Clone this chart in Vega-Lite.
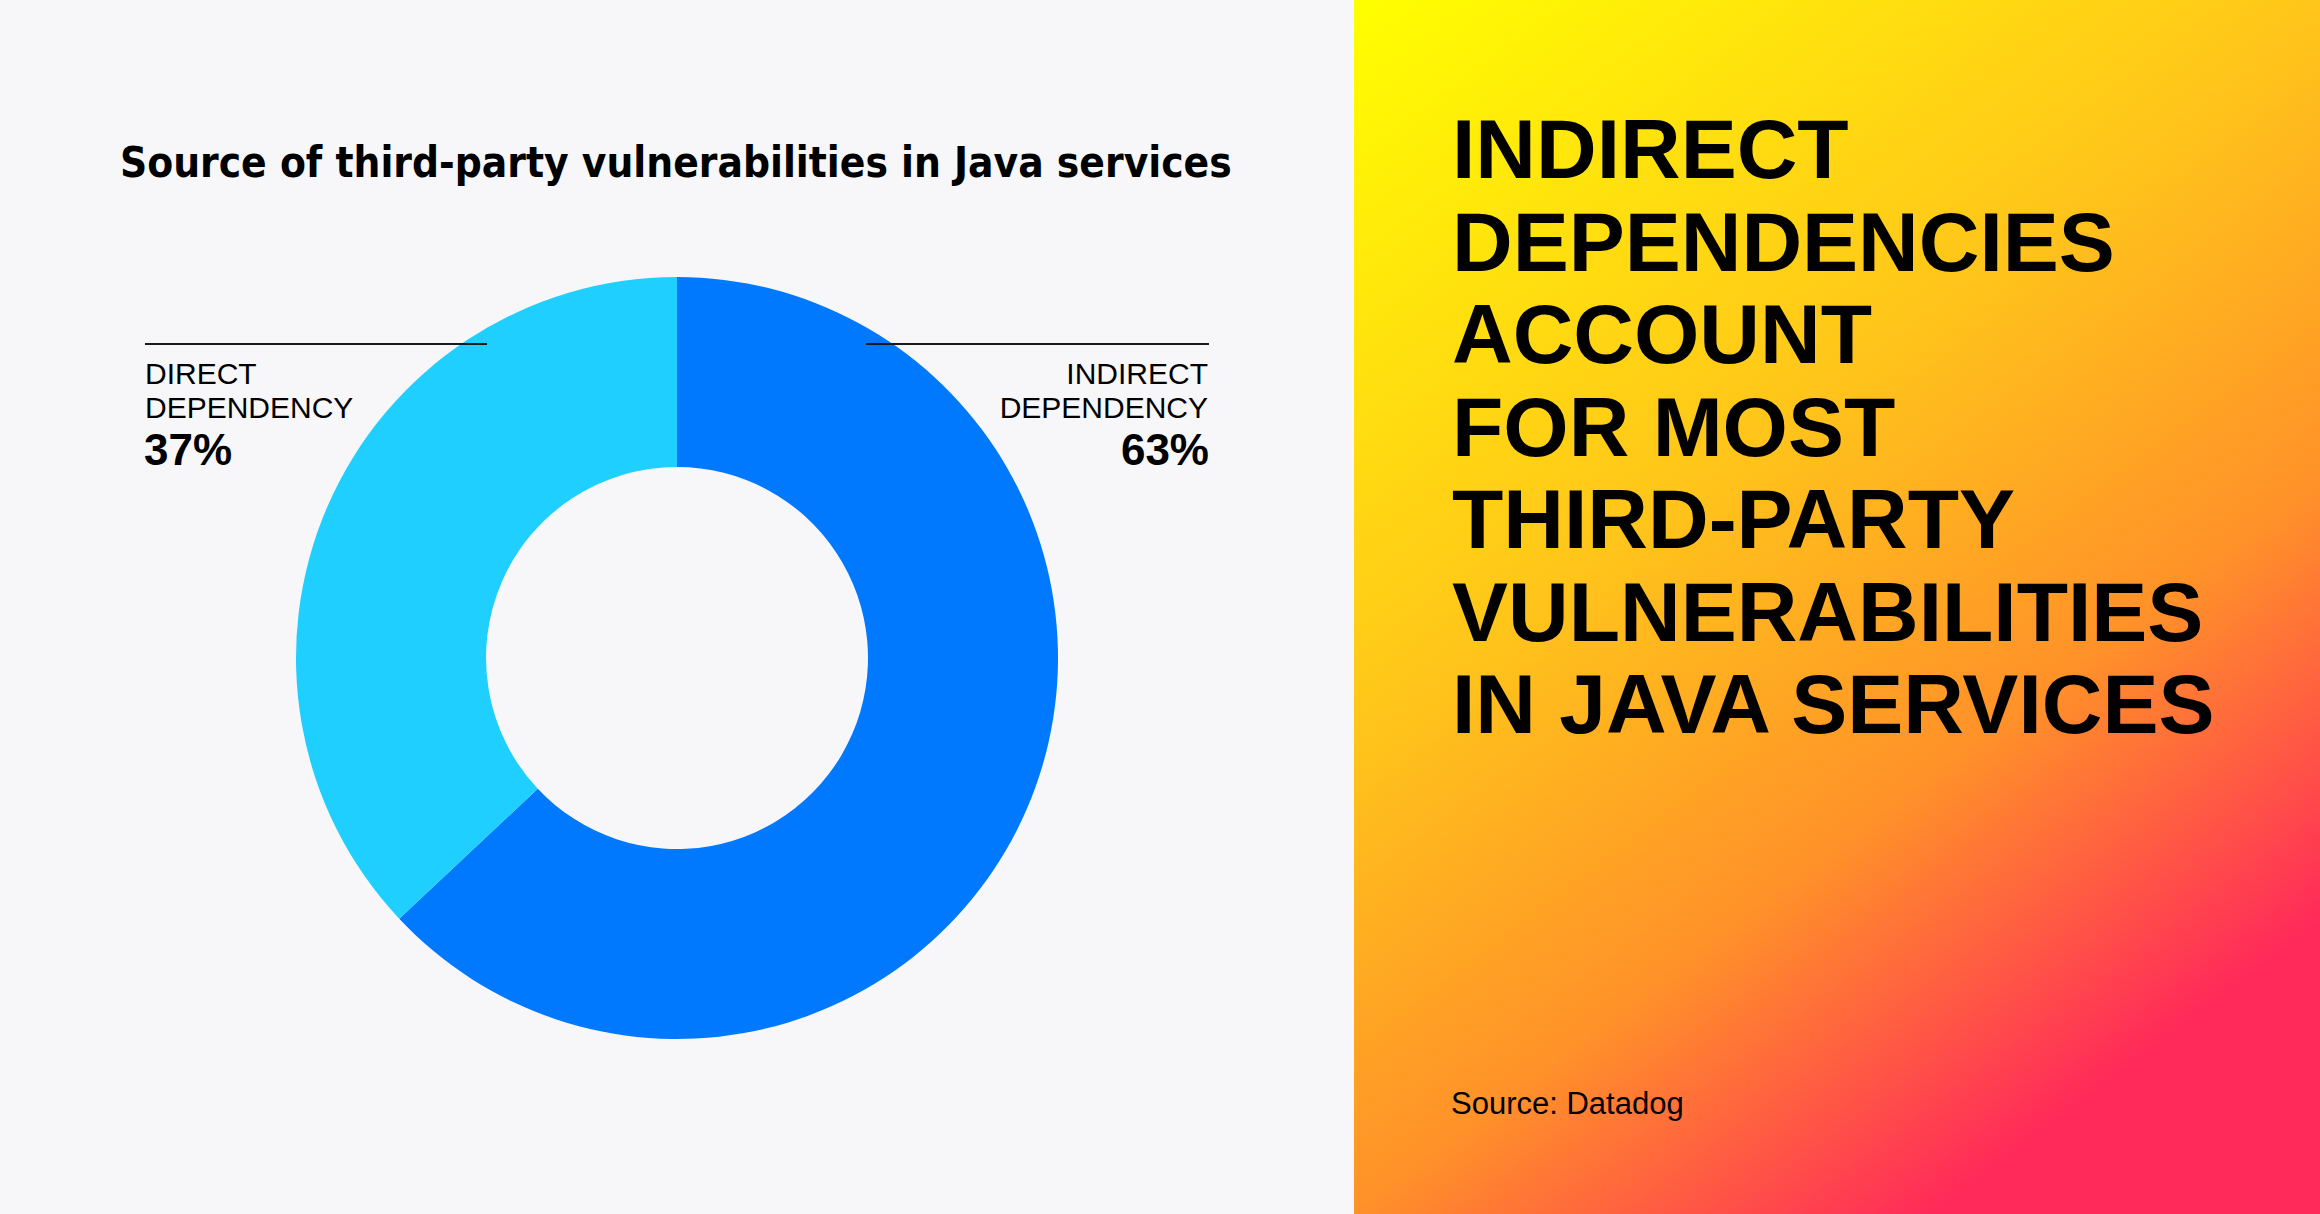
{
  "$schema": "https://vega.github.io/schema/vega-lite/v6.json",
  "padding": 0,
  "autosize": {"type": "pad"},
  "background": "#f7f7f9",
  "spacing": 0,
  "config": {"view": {"stroke": null}, "concat": {"spacing": 0}},
  "hconcat": [
    {
      "width": 1354,
      "height": 1214,
      "view": {"fill": "#f7f7f9", "stroke": null},
      "layer": [
        {
          "data": {"values": [
            {"source": "Indirect dependency", "share": 0.63, "order": 1},
            {"source": "Direct dependency", "share": 0.37, "order": 2}
          ]},
          "mark": {"type": "arc", "outerRadius": 381, "innerRadius": 191, "yOffset": 51},
          "encoding": {
            "theta": {"field": "share", "type": "quantitative", "stack": true},
            "order": {"field": "order", "type": "quantitative"},
            "color": {"field": "source", "type": "nominal", "legend": null,
              "scale": {"domain": ["Indirect dependency", "Direct dependency"], "range": ["#0079ff", "#1fcfff"]}}
          }
        },
        {
          "data": {"values": [{"t": "Source of third-party vulnerabilities in Java services"}]},
          "mark": {"type": "text", "x": 120, "y": 177, "align": "left", "baseline": "alphabetic",
            "font": "DejaVu Sans Condensed, sans-serif", "fontWeight": "bold", "fontSize": 42, "color": "#000000"},
          "encoding": {"text": {"field": "t", "type": "nominal"}}
        },
        {
          "data": {"values": [{"side": "left"}]},
          "mark": {"type": "rule", "strokeWidth": 2, "color": "#1a1a1a"},
          "encoding": {"x": {"value": 145}, "x2": {"value": 487}, "y": {"value": 344}}
        },
        {
          "data": {"values": [{"side": "right"}]},
          "mark": {"type": "rule", "strokeWidth": 2, "color": "#1a1a1a"},
          "encoding": {"x": {"value": 866}, "x2": {"value": 1209}, "y": {"value": 344}}
        },
        {
          "data": {"values": [{"name": "DIRECT\nDEPENDENCY", "share": 0.37}]},
          "layer": [
            {
              "mark": {"type": "text", "x": 145, "y": 384, "align": "left", "baseline": "alphabetic", "lineBreak": "\n", "lineHeight": 34,
                "font": "Liberation Sans", "fontSize": 30, "color": "#000000"},
              "encoding": {"text": {"field": "name", "type": "nominal"}}
            },
            {
              "mark": {"type": "text", "x": 144, "y": 465, "align": "left", "baseline": "alphabetic",
                "font": "Liberation Sans", "fontWeight": "bold", "fontSize": 44, "color": "#000000"},
              "encoding": {"text": {"field": "share", "type": "quantitative", "format": ".0%"}}
            }
          ]
        },
        {
          "data": {"values": [{"name": "INDIRECT\nDEPENDENCY", "share": 0.63}]},
          "layer": [
            {
              "mark": {"type": "text", "x": 1208, "y": 384, "align": "right", "baseline": "alphabetic", "lineBreak": "\n", "lineHeight": 34,
                "font": "Liberation Sans", "fontSize": 30, "color": "#000000"},
              "encoding": {"text": {"field": "name", "type": "nominal"}}
            },
            {
              "mark": {"type": "text", "x": 1209, "y": 465, "align": "right", "baseline": "alphabetic",
                "font": "Liberation Sans", "fontWeight": "bold", "fontSize": 44, "color": "#000000"},
              "encoding": {"text": {"field": "share", "type": "quantitative", "format": ".0%"}}
            }
          ]
        }
      ]
    },
    {
      "width": 966,
      "height": 1214,
      "view": {
        "stroke": null,
        "fill": {
          "gradient": "linear", "x1": 0, "y1": 0, "x2": 0.6, "y2": 1,
          "stops": [
            {"offset": 0, "color": "#ffff00"},
            {"offset": 0.44, "color": "#ffc61a"},
            {"offset": 0.735, "color": "#ff9129"},
            {"offset": 1, "color": "#ff2a5a"}
          ]
        }
      },
      "layer": [
        {
          "data": {"values": [{"headline": "INDIRECT\nDEPENDENCIES\nACCOUNT\nFOR MOST\nTHIRD-PARTY\nVULNERABILITIES\nIN JAVA SERVICES"}]},
          "mark": {"type": "text", "x": 98, "y": 178, "align": "left", "baseline": "alphabetic", "lineBreak": "\n", "lineHeight": 92.5,
            "font": "Liberation Sans", "fontWeight": "bold", "fontSize": 84, "color": "#000000"},
          "encoding": {"text": {"field": "headline", "type": "nominal"}}
        },
        {
          "data": {"values": [{"src": "Source: Datadog"}]},
          "mark": {"type": "text", "x": 97, "y": 1114, "align": "left", "baseline": "alphabetic",
            "font": "Liberation Sans", "fontSize": 31, "color": "#000000"},
          "encoding": {"text": {"field": "src", "type": "nominal"}}
        }
      ]
    }
  ]
}
